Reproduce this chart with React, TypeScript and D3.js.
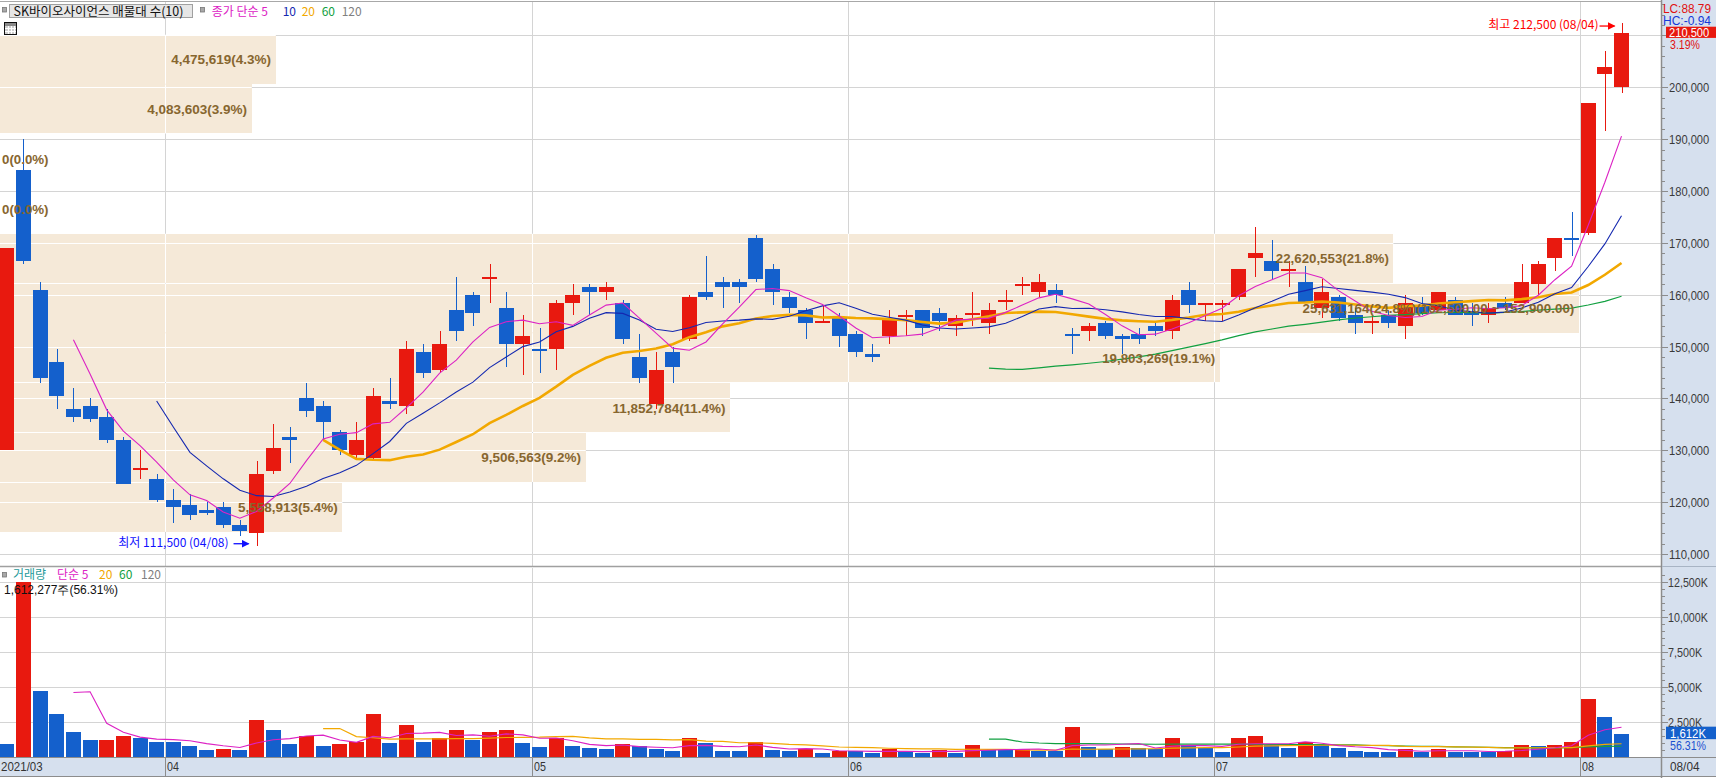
import React from 'react';
import * as d3 from 'd3';

// ---------------- DATA ----------------
const dates = [
  '03/18','03/19','03/22','03/23','03/24','03/25','03/26','03/29','03/30','03/31',
  '04/01','04/02','04/05','04/06','04/07','04/08','04/09','04/12','04/13','04/14','04/15','04/16','04/19','04/20','04/21','04/22','04/23','04/26','04/27','04/28','04/29','04/30',
  '05/03','05/04','05/06','05/07','05/10','05/11','05/12','05/13','05/14','05/17','05/18','05/20','05/21','05/24','05/25','05/26','05/27','05/28','05/31',
  '06/01','06/02','06/03','06/04','06/07','06/08','06/09','06/10','06/11','06/14','06/15','06/16','06/17','06/18','06/21','06/22','06/23','06/24','06/25','06/28','06/29','06/30',
  '07/01','07/02','07/05','07/06','07/07','07/08','07/09','07/12','07/13','07/14','07/15','07/16','07/19','07/20','07/21','07/22','07/23','07/26','07/27','07/28','07/29','07/30',
  '08/02','08/03','08/04',
];
const opens = [
  130000,184000,161000,147000,138000,138500,136500,132000,126500,124500,
  120500,119500,118500,119000,115500,114000,126000,132500,140000,138500,133500,129000,128500,139500,138500,149000,145500,157000,160000,163500,157500,150500,
  149500,149500,158500,161500,160500,158500,148000,139000,149000,151500,160500,162500,162500,171000,165000,159500,157000,155000,155500,
  152500,148500,152000,156000,157000,156500,154000,156000,154500,159000,162000,160500,161000,152500,153000,154500,152000,152500,154000,153000,161000,158500,
  158500,159500,167000,166500,164500,162500,157500,159500,156000,155000,156000,154000,158000,157000,159000,156500,156000,158500,158500,162000,167000,171000,
  172000,202500,200000,
];
const highs = [
  169000,190000,162500,149500,142000,140000,138000,132500,130000,125500,
  122500,121500,120000,120000,116500,128000,135000,134500,143000,139500,134000,135500,142000,144000,151000,150500,153000,163500,160500,166000,160500,156000,
  153500,159000,162000,162000,162500,159000,152500,149000,150000,160000,167500,163500,163000,171500,166000,160500,157500,158000,156500,
  153000,150500,157000,157000,157000,157500,156000,160500,158500,161000,163500,164000,162000,153500,154500,155000,152500,153500,154500,160000,162500,158500,
  159000,165000,173000,170500,166500,165500,163000,160000,157500,156000,157000,160000,159500,160500,159500,158500,158500,159500,166000,166500,171000,176000,
  197000,207000,212500,
];
const lows = [
  130000,166000,143000,138000,135500,135500,131500,123500,124500,120000,
  116000,116500,117500,115000,113500,111500,125500,127500,136500,132000,129000,128500,128000,138000,137000,144000,145000,151000,154000,158500,146000,144500,
  145000,145500,156000,156000,159000,150500,143000,138000,143000,151000,159000,157500,158500,162500,158000,156500,151500,154500,150000,
  148000,147000,150500,152000,152000,153000,152000,154000,152500,157000,160000,159500,158500,148500,151000,151500,148500,150500,152000,151500,156500,155000,
  155000,159000,163500,163000,161500,158500,155500,155000,152500,152500,153500,151500,156000,157000,156000,154000,154500,157000,158500,160000,164500,167500,
  171500,191500,199000,
];
const closes = [
  169000,166500,144000,140500,136500,136000,132000,123500,126500,120500,
  119000,117500,118000,115500,114500,125500,130500,132000,137500,135500,130000,132000,140500,139000,149500,145000,150500,153000,156500,163500,150500,152000,
  149500,158500,160000,160500,161500,151500,144000,145500,146000,159500,159500,161500,161500,163000,160500,157500,154500,155000,152000,
  149000,148000,155500,156000,153500,155000,155500,156500,157000,159000,162000,162500,160000,152500,154000,152000,151500,151500,153000,159000,158000,158500,
  158500,165000,168000,164500,165000,158500,160500,155500,154500,155000,154500,158500,156500,160500,156000,156000,157500,157500,162500,166000,171000,170500,
  197000,204000,210500,
];
// volume in thousands of shares
const volumes = [
  930,12500,4706,3058,1770,1196,1210,1483,1340,1053,
  1040,767,480,550,470,2630,1913,910,1483,767,910,1053,3058,982,2272,1053,1340,1913,1220,1770,1913,982,
  695,1340,767,623,552,910,767,552,409,1340,982,409,405,1053,480,400,552,266,409,
  400,266,552,337,266,480,266,838,480,470,552,409,400,2130,695,552,695,623,552,1340,838,623,
  337,1340,1483,838,623,1053,838,623,409,337,330,552,337,552,337,330,320,409,838,767,850,1053,
  4133,2863,1612,
];
const lastVolumeShares = 1612277;
const prevVolumeShares = 2863200;
// 매물대 (volume profile) — bottom band to top band
const profileVolumes = [5558913, 9506563, 11852784, 19803269, 25631164, 22620553, 0, 0, 4083603, 4475619];
const priceTicks = [110000,120000,130000,140000,150000,160000,170000,180000,190000,200000,210000];
const volumeTicks = [2500,5000,7500,10000,12500];

// ---------------- LAYOUT ----------------
const W = 1716, H = 778;
const PR = 1662;
const PTOP = 2, PBOT = 566, VTOP = 567, VBOT = 757, ABOT = 776;
const RED = '#e8190f', BLUE = '#1460cc';
const GRID = '#d4d4d4';
const AXBG = '#d6e0ee';
const AXLINE = '#8c8c8c';
const BAND = '#f5e9d8';
const BANDTXT = '#87662f';
const C5 = '#dc22c4', C10 = '#1428b0', C20 = '#f2a800', C60 = '#11a040', C120 = '#808080';
const KFONT = '"Noto Sans CJK KR", "Noto Sans", sans-serif';
const NFONT = '"Liberation Sans", Arial, sans-serif';

const N = dates.length;
const step = 16.646, x0c = 6.85;
const x = d3.scaleBand<string>().domain(dates)
  .range([x0c - step / 2, x0c - step / 2 + N * step]).paddingInner(0.1).paddingOuter(0.05);
const bw = x.bandwidth();
const cx = (i: number) => (x(dates[i]) as number) + bw / 2;

const y = d3.scaleLinear().domain([110000, 200000]).range([554, 87.35]);
const yv = d3.scaleLinear().domain([0, 12500]).range([756.7, 582]);

function sma(arr: number[], n: number): (number | null)[] {
  return arr.map((_, i) => (i < n - 1 ? null : (d3.mean(arr.slice(i - n + 1, i + 1)) as number)));
}

const candleColor = (i: number) => {
  if (closes[i] > opens[i]) return RED;
  if (closes[i] < opens[i]) return BLUE;
  if (i > 0 && closes[i] < closes[i - 1]) return BLUE;
  return RED;
};
const volColor = (i: number) => (i > 0 && volumes[i] >= volumes[i - 1] ? RED : BLUE);

function maPath(vals: (number | null)[], sc: (v: number) => number) {
  const pts = vals.map((v, i) => [i, v] as [number, number | null]);
  return d3.line<[number, number | null]>()
    .defined(d => d[1] !== null)
    .x(d => cx(d[0]))
    .y(d => sc(d[1] as number))(pts) || '';
}

const fmt = d3.format(',');
const fmt2 = d3.format(',.2f');

const FitText = (p: { x: number; y: number; s: string; cw: number; fill: string; size?: number; anchor?: string; weight?: string; family?: string }) => (
  <text x={p.x} y={p.y} fill={p.fill} fontSize={p.size || 12} textAnchor={p.anchor || 'start'}
    fontWeight={p.weight || 'normal'} fontFamily={p.family || NFONT}
    textLength={p.s.length * p.cw} lengthAdjust="spacingAndGlyphs">{p.s}</text>
);

export default function App() {
  const ma5 = sma(closes, 5), ma10 = sma(closes, 10), ma20 = sma(closes, 20), ma60 = sma(closes, 60);
  const vma5 = sma(volumes, 5), vma20 = sma(volumes, 20), vma60 = sma(volumes, 60);

  const months: { i: number; label: string }[] = [];
  dates.forEach((d, i) => {
    if (i === 0) months.push({ i, label: '2021/' + d.slice(0, 2) });
    else if (d.slice(0, 2) !== dates[i - 1].slice(0, 2)) months.push({ i, label: d.slice(0, 2) });
  });
  const monthX = (i: number) => (i === 0 ? -10 : Math.round((x(dates[i]) as number) - 0.5) + 0.5);

  const lo = d3.min(closes) as number, hi = d3.max(closes) as number;
  const bandStep = (hi - lo) / profileVolumes.length;
  const maxPV = d3.max(profileVolumes) as number;
  const sumPV = d3.sum(profileVolumes);
  const wScale = d3.scaleLinear().domain([0, maxPV]).range([0, PR * 0.95]);
  const bands = profileVolumes.map((v, k) => {
    const pLo = lo + bandStep * k, pHi = lo + bandStep * (k + 1);
    const top = y(pHi) + 1.8, bot = y(pLo) + 1;
    let label = fmt(v) + '(' + ((v / sumPV) * 100).toFixed(1) + '%)';
    if (v === maxPV) label += '(' + fmt2(pHi) + ' ~ ' + fmt2(pLo) + ')';
    return { top, bot, w: wScale(v), label, mid: (top + bot) / 2, max: v === maxPV };
  });

  const priceMinor = d3.range(108000, 216001, 2000);
  const volMinor = d3.range(500, 13500, 500);
  const last = N - 1;
  const hiIdx = d3.maxIndex(highs), loIdx = d3.minIndex(lows);
  const curY = y(closes[last]);
  const curVY = yv(volumes[last]);
  const volPct = ((lastVolumeShares / prevVolumeShares) * 100).toFixed(2) + '%';

  return (
    <div style={{ position: 'absolute', left: 0, top: 0, width: W, height: H, background: '#fff' }}>
      <svg width={W} height={H} style={{ display: 'block' }}>
        <defs>
          <clipPath id="bandclip">
            {bands.map((b, k) => <rect key={k} x={0} y={b.top} width={b.w} height={b.bot - b.top} />)}
          </clipPath>
          <clipPath id="priceclip"><rect x={0} y={PTOP} width={PR} height={PBOT - PTOP} /></clipPath>
          <marker id="arrR" markerWidth="8" markerHeight="8" refX="7" refY="4" orient="auto" markerUnits="userSpaceOnUse">
            <path d="M0,0 L8,4 L0,8 Z" fill="#ff0000" />
          </marker>
          <marker id="arrB" markerWidth="8" markerHeight="8" refX="7" refY="4" orient="auto" markerUnits="userSpaceOnUse">
            <path d="M0,0 L8,4 L0,8 Z" fill="#1010ff" />
          </marker>
        </defs>
        <rect x={0} y={0} width={W} height={H} fill="#fff" />

        {/* ---------- PRICE PANE ---------- */}
        <g shapeRendering="crispEdges">
          {priceTicks.map(t => <line key={t} x1={0} x2={PR} y1={Math.round(y(t)) + 0.5} y2={Math.round(y(t)) + 0.5} stroke={GRID} />)}
          {months.filter(m => m.i > 0).map(m => <line key={m.i} x1={monthX(m.i)} x2={monthX(m.i)} y1={PTOP} y2={PBOT} stroke={GRID} />)}
        </g>
        <g shapeRendering="crispEdges">
          {bands.map((b, k) => <rect key={k} x={0} y={b.top} width={b.w} height={b.bot - b.top} fill={BAND} />)}
        </g>
        <g clipPath="url(#bandclip)" shapeRendering="crispEdges">
          {priceTicks.map(t => <line key={t} x1={0} x2={PR} y1={Math.round(y(t)) + 0.5} y2={Math.round(y(t)) + 0.5} stroke="#fff" />)}
          {months.filter(m => m.i > 0).map(m => <line key={m.i} x1={monthX(m.i)} x2={monthX(m.i)} y1={PTOP} y2={PBOT} stroke="#fff" />)}
        </g>

        <g clipPath="url(#priceclip)">
          <g shapeRendering="crispEdges">
            {dates.map((d, i) => {
              const c = candleColor(i);
              const bx = x(d) as number;
              const wx = Math.round(cx(i)) + 0.5;
              const yt = y(Math.max(opens[i], closes[i])), yb = y(Math.min(opens[i], closes[i]));
              return (
                <g key={d}>
                  <line x1={wx} x2={wx} y1={y(highs[i])} y2={y(lows[i])} stroke={c} strokeWidth={1} />
                  <rect x={Math.round(bx)} y={Math.round(yt)} width={15} height={Math.max(1.5, Math.round(yb) - Math.round(yt))} fill={c} />
                </g>
              );
            })}
          </g>
          <path d={maPath(ma60, y)} fill="none" stroke={C60} strokeWidth={1.2} />
          <path d={maPath(ma20, y)} fill="none" stroke={C20} strokeWidth={2.6} />
          <path d={maPath(ma10, y)} fill="none" stroke={C10} strokeWidth={1.1} />
          <path d={maPath(ma5, y)} fill="none" stroke={C5} strokeWidth={1.1} />
        </g>

        {/* band labels */}
        {bands.map((b, k) => {
          const cw = b.max ? 6.47 : 6.65;
          const tw = b.label.length * cw;
          const xr = Math.max(b.w - 4.6, tw + 2);
          return <FitText key={k} x={xr} y={b.mid + 5} s={b.label} cw={cw} fill={BANDTXT} size={13} anchor="end" weight="bold" />;
        })}

        {/* high / low markers */}
        <text x={cx(hiIdx) - 23} y={y(highs[hiIdx]) + 6.5} fill="#ff0000" fontSize={12} fontFamily={KFONT} textAnchor="end">
          {'최고 ' + fmt(highs[hiIdx]) + ' (' + dates[hiIdx] + ')'}
        </text>
        <line x1={cx(hiIdx) - 22} x2={cx(hiIdx) - 7} y1={y(highs[hiIdx]) + 3.5} y2={y(highs[hiIdx]) + 3.5} stroke="#ff0000" strokeWidth={1.3} markerEnd="url(#arrR)" />
        <text x={cx(loIdx) - 28} y={y(lows[loIdx]) + 1} fill="#1010ff" fontSize={12} fontFamily={KFONT} textAnchor="end">
          {'최저 ' + fmt(lows[loIdx]) + ' (' + dates[loIdx] + ')'}
        </text>
        <line x1={cx(loIdx) - 23} x2={cx(loIdx) - 8} y1={y(lows[loIdx]) - 2.5} y2={y(lows[loIdx]) - 2.5} stroke="#1010ff" strokeWidth={1.3} markerEnd="url(#arrB)" />

        {/* top border & legend */}
        <line x1={0} x2={PR} y1={1.5} y2={1.5} stroke="#a8a8a8" strokeWidth={1} />
        <rect x={2.5} y={7.5} width={4} height={4.5} fill="#a8a8a8" stroke="#777" strokeWidth={0.8} />
        <rect x={9.5} y={4.5} width={183} height={13} fill="#e6e6e6" stroke="#a0a0a0" />
        <text x={13.5} y={15.5} fontSize={12.5} fontFamily={KFONT} fill="#111">SK바이오사이언스 매물대 수(10)</text>
        <rect x={200.5} y={7.5} width={4} height={4.5} fill="#a8a8a8" stroke="#777" strokeWidth={0.8} />
        <text x={211.7} y={15.5} fontSize={12} fontFamily={KFONT} fill={C5}>종가 단순 5</text>
        <text x={282.7} y={15.5} fontSize={12} fontFamily={KFONT} fill={C10}>10</text>
        <text x={301.7} y={15.5} fontSize={12} fontFamily={KFONT} fill={C20}>20</text>
        <text x={321.7} y={15.5} fontSize={12} fontFamily={KFONT} fill={C60}>60</text>
        <text x={341.7} y={15.5} fontSize={12} fontFamily={KFONT} fill={C120}>120</text>
        <g shapeRendering="crispEdges">
          <rect x={4.5} y={22.5} width={12} height={12} fill="#cfcfcf" stroke="#111" />
          <rect x={5} y={23} width={11} height={2.5} fill="#8a8a8a" />
          {[7.5, 10.5, 13.5].map(v => <line key={'v' + v} x1={v + 0.5} x2={v + 0.5} y1={25.5} y2={34} stroke="#fff" />)}
          {[27.5, 30.5].map(v => <line key={'h' + v} x1={5} x2={16} y1={v + 0.5} y2={v + 0.5} stroke="#fff" />)}
        </g>

        <line x1={0} x2={PR} y1={566.5} y2={566.5} stroke="#a0a0a0" strokeWidth={1.5} />

        {/* ---------- VOLUME PANE ---------- */}
        <g shapeRendering="crispEdges">
          {volumeTicks.map(t => <line key={t} x1={0} x2={PR} y1={Math.round(yv(t)) + 0.5} y2={Math.round(yv(t)) + 0.5} stroke={GRID} />)}
          {months.filter(m => m.i > 0).map(m => <line key={m.i} x1={monthX(m.i)} x2={monthX(m.i)} y1={VTOP + 1} y2={VBOT} stroke={GRID} />)}
          {dates.map((d, i) => (
            <rect key={d} x={Math.round(x(d) as number)} y={Math.round(yv(volumes[i]))} width={15}
              height={Math.round(yv(0)) - Math.round(yv(volumes[i]))} fill={volColor(i)} />
          ))}
        </g>
        <path d={maPath(vma60, yv)} fill="none" stroke={C60} strokeWidth={1.2} />
        <path d={maPath(vma20, yv)} fill="none" stroke={C20} strokeWidth={1.2} />
        <path d={maPath(vma5, yv)} fill="none" stroke={C5} strokeWidth={1.1} />

        <rect x={2.5} y={572.5} width={4} height={4.5} fill="#a8a8a8" stroke="#777" strokeWidth={0.8} />
        <text x={13} y={578.5} fontSize={12} fontFamily={KFONT} fill="#1f9a9a">거래량</text>
        <text x={57} y={578.5} fontSize={12} fontFamily={KFONT} fill={C5}>단순 5</text>
        <text x={99} y={578.5} fontSize={12} fontFamily={KFONT} fill={C20}>20</text>
        <text x={119} y={578.5} fontSize={12} fontFamily={KFONT} fill={C60}>60</text>
        <text x={141} y={578.5} fontSize={12} fontFamily={KFONT} fill={C120}>120</text>
        <text x={4} y={593.5} fontSize={12} fontFamily={NFONT} fill="#111">
          {fmt(lastVolumeShares) + '주(' + volPct + ')'}
        </text>

        {/* ---------- X AXIS BAND ---------- */}
        <rect x={0} y={757} width={W} height={ABOT - 757} fill={AXBG} />
        <line x1={0} x2={W} y1={757.5} y2={757.5} stroke={AXLINE} strokeWidth={1.2} />
        <line x1={0} x2={W} y1={776.5} y2={776.5} stroke={AXLINE} strokeWidth={1.2} />
        {months.map(m => (
          <g key={m.i}>
            {m.i > 0 && <line x1={monthX(m.i)} x2={monthX(m.i)} y1={757} y2={776} stroke={AXLINE} shapeRendering="crispEdges" />}
            <FitText x={m.i === 0 ? 1 : monthX(m.i) + 1.5} y={771} s={m.label} cw={5.95} fill="#333" size={13} />
          </g>
        ))}

        {/* ---------- RIGHT AXIS ---------- */}
        <rect x={PR} y={0} width={W - PR} height={757} fill={AXBG} />
        <line x1={PR - 0.5} x2={PR - 0.5} y1={0} y2={H} stroke={AXLINE} strokeWidth={1.5} />
        <line x1={PR} x2={W} y1={566.5} y2={566.5} stroke="#a8b4c4" strokeWidth={1} />
        <g shapeRendering="crispEdges">
          {priceMinor.filter(t => y(t) > PTOP + 2 && y(t) < PBOT - 2).map(t => (
            <line key={t} x1={PR} x2={t % 10000 === 0 ? PR + 6 : PR + 3} y1={Math.round(y(t)) + 0.5} y2={Math.round(y(t)) + 0.5} stroke={AXLINE} />
          ))}
          {volMinor.filter(t => yv(t) > VTOP + 2).map(t => (
            <line key={t} x1={PR} x2={t % 2500 === 0 ? PR + 6 : PR + 3} y1={Math.round(yv(t)) + 0.5} y2={Math.round(yv(t)) + 0.5} stroke={AXLINE} />
          ))}
        </g>
        {priceTicks.filter(t => Math.abs(y(t) - curY) > 12).map(t => (
          <FitText key={t} x={PR + 7} y={y(t) + 5} s={fmt(t)} cw={5.75} fill="#3a3a3a" size={13} />
        ))}
        {volumeTicks.map(t => <FitText key={t} x={PR + 6} y={yv(t) + 5} s={fmt(t) + 'K'} cw={5.7} fill="#3a3a3a" size={13} />)}

        {/* right axis info */}
        <FitText x={1663} y={12.5} s="LC:88.79" cw={6.0} fill="#e01010" size={12.5} />
        <FitText x={1663} y={24.5} s="HC:-0.94" cw={6.0} fill="#1538d8" size={12.5} />
        <rect x={1666} y={curY - 6.2} width={50} height={11.2} fill={RED} />
        <FitText x={1669} y={curY + 4} s={fmt(closes[last])} cw={5.75} fill="#fff" size={12} />
        <FitText x={1670} y={48.5} s={(((closes[last] - closes[last - 1]) / closes[last - 1]) * 100).toFixed(2) + '%'} cw={6.0} fill="#e01010" size={12} />
        <rect x={1666} y={curVY - 7.5} width={50} height={12.5} fill={BLUE} />
        <FitText x={1670} y={curVY + 3.5} s={fmt(volumes[last]) + 'K'} cw={6.0} fill="#fff" size={12} />
        <FitText x={1670} y={750} s={volPct} cw={6.0} fill="#1a50d0" size={12} />
        <FitText x={1670} y={771} s={dates[last]} cw={5.9} fill="#333" size={13} />
      </svg>
    </div>
  );
}
